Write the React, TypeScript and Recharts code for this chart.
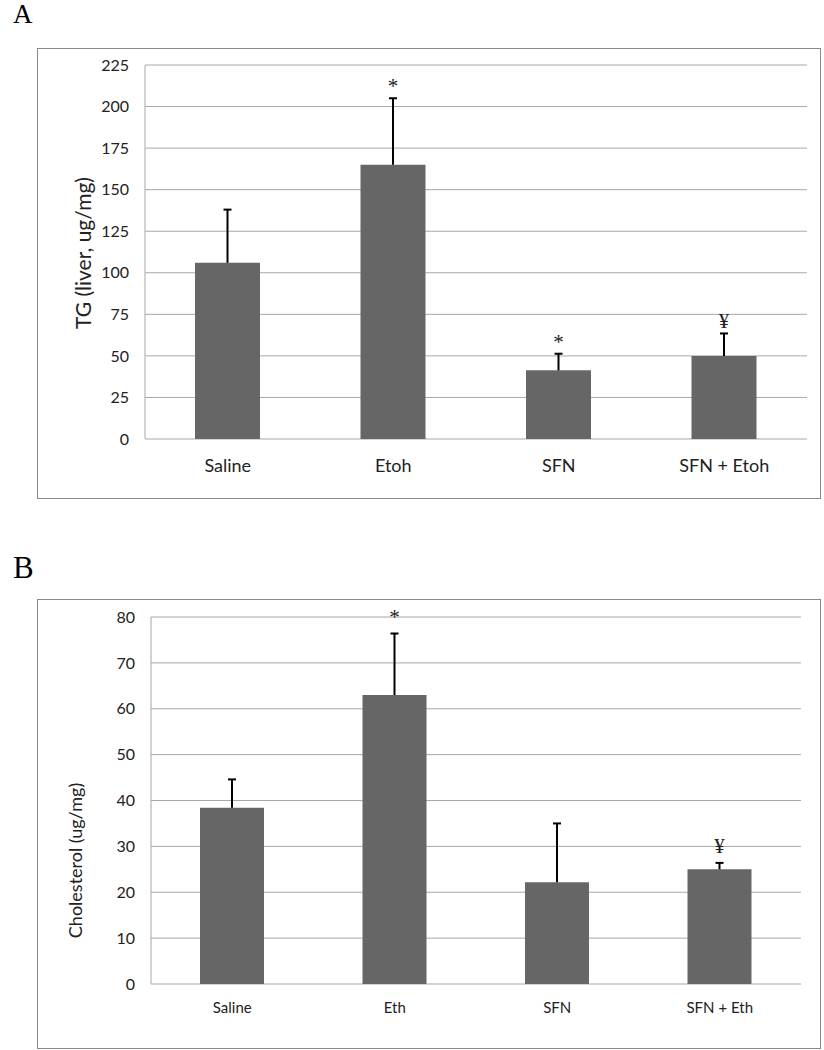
import React from "react";
import { ComposedChart, Bar, XAxis, YAxis, CartesianGrid, LabelList } from "recharts";

// Panel A: liver triglycerides
const tgGroups = ["Saline", "Etoh", "SFN", "SFN + Etoh"];
const tgMeans = [106, 165, 41.3, 50];
const tgErrors = [32, 40, 10, 13.5];
const tgMarks = ["", "*", "*", "¥"];
const tgTicks = [0, 25, 50, 75, 100, 125, 150, 175, 200, 225];

// Panel B: liver cholesterol
const cholGroups = ["Saline", "Eth", "SFN", "SFN + Eth"];
const cholMeans = [38.4, 63, 22.2, 25];
const cholErrors = [6.2, 13.4, 12.8, 1.4];
const cholMarks = ["", "*", "", "¥"];
const cholTicks = [0, 10, 20, 30, 40, 50, 60, 70, 80];

// category boundaries for the little tick marks under the x axis
const edgeTicks = [0, 1, 2, 3, 4];

const SANS = "Lato, 'Open Sans', sans-serif";
const SERIF = "'Liberation Serif', 'DejaVu Serif', serif";
const GRID = "#a8a8a8";

function toRows(groups: string[], means: number[], errs: number[], marks: string[]) {
  return groups.map((g, i) => ({ group: g, mean: means[i], err: errs[i], mark: marks[i] }));
}

// upward-only whisker drawn inside the stacked "err" bar
const Whisker = (p: any) => {
  if (!p.height && p.height !== 0) return null;
  const cx = p.x + p.width / 2;
  return (
    <g>
      <line x1={cx} x2={cx} y1={p.y + p.height} y2={p.y} stroke="#000" strokeWidth={2} />
      <line x1={cx - 4} x2={cx + 4} y1={p.y} y2={p.y} stroke="#000" strokeWidth={2} />
    </g>
  );
};

interface PanelProps {
  rows: ReturnType<typeof toRows>;
  ticks: number[];
  yMax: number;
  width: number;
  height: number;
  margin: { top: number; right: number; left: number; bottom: number };
  barSize: number;
  tickFont: number;
  catFont: number;
  catMargin: number;
  yLabel: string;
  yLabelFont: number;
  yLabelX: number;
  yLabelShift: number;
  markGap: number;
}

function Panel(p: PanelProps) {
  return (
    <ComposedChart width={p.width} height={p.height} data={p.rows} margin={p.margin}>
      <CartesianGrid vertical={false} stroke={GRID} strokeWidth={1} />
      <XAxis
        xAxisId="edge"
        type="number"
        domain={[0, 4]}
        ticks={edgeTicks}
        tick={false}
        tickSize={6}
        height={0}
        axisLine={{ stroke: GRID }}
        tickLine={{ stroke: GRID }}
        allowDataOverflow
      />
      <XAxis
        dataKey="group"
        height={40}
        axisLine={false}
        tickLine={false}
        tickSize={0}
        tickMargin={p.catMargin}
        tick={{ fill: "#222", fontSize: p.catFont, fontFamily: SANS }}
        interval={0}
      />
      <YAxis
        domain={[0, p.yMax]}
        ticks={p.ticks}
        width={100}
        axisLine={{ stroke: GRID }}
        tickLine={false}
        tickSize={6}
        tickMargin={10}
        tick={{ fill: "#222", fontSize: p.tickFont, fontFamily: SANS }}
        label={{
          content: ({ viewBox }: any) => {
            const x = viewBox.x + p.yLabelX;
            const y = viewBox.y + viewBox.height / 2 + p.yLabelShift;
            return (
              <text
                x={x}
                y={y}
                transform={`rotate(-90, ${x}, ${y})`}
                textAnchor="middle"
                dominantBaseline="central"
                fontSize={p.yLabelFont}
                fontFamily={SANS}
                fill="#222"
              >
                {p.yLabel}
              </text>
            );
          },
        }}
      />
      <Bar dataKey="mean" stackId="s" fill="#666666" barSize={p.barSize} isAnimationActive={false} />
      <Bar dataKey="err" stackId="s" fill="none" barSize={p.barSize} shape={Whisker} isAnimationActive={false}>
        <LabelList
          dataKey="mark"
          content={(l: any) =>
            l.value ? (
              <text
                x={l.x + l.width / 2}
                y={l.y - p.markGap}
                textAnchor="middle"
                fontSize={21}
                fontFamily={SERIF}
                fill="#222"
              >
                {l.value}
              </text>
            ) : null
          }
        />
      </Bar>
    </ComposedChart>
  );
}

const frame: React.CSSProperties = {
  position: "absolute",
  left: 37,
  width: 784,
  border: "1.5px solid #8a8a8a",
  boxSizing: "border-box",
};

export default function App() {
  return (
    <div style={{ position: "absolute", left: 0, top: 0, width: 824, height: 1050, background: "#fff" }}>
      <div style={{ position: "absolute", left: 13, top: -3, fontFamily: SERIF, fontSize: 27, lineHeight: "34px" }}>A</div>
      <div style={{ ...frame, top: 48, height: 451 }} />
      <div style={{ position: "absolute", left: 0, top: 0 }}>
        <Panel
          rows={toRows(tgGroups, tgMeans, tgErrors, tgMarks)}
          ticks={tgTicks}
          yMax={225}
          width={824}
          height={500}
          margin={{ top: 65, right: 17, left: 45, bottom: 21 }}
          barSize={65}
          tickFont={16}
          catFont={18}
          catMargin={20}
          yLabel="TG (liver, ug/mg)"
          yLabelFont={21}
          yLabelX={37}
          yLabelShift={1}
          markGap={5}
        />
      </div>

      <div style={{ position: "absolute", left: 13, top: 549, fontFamily: SERIF, fontSize: 31, lineHeight: "38px" }}>B</div>
      <div style={{ ...frame, top: 599, height: 450 }} />
      <div style={{ position: "absolute", left: 0, top: 540 }}>
        <Panel
          rows={toRows(cholGroups, cholMeans, cholErrors, cholMarks)}
          ticks={cholTicks}
          yMax={80}
          width={824}
          height={510}
          margin={{ top: 77, right: 23, left: 51, bottom: 26 }}
          barSize={64}
          tickFont={16}
          catFont={15}
          catMargin={18}
          yLabel="Cholesterol (ug/mg)"
          yLabelFont={18}
          yLabelX={24}
          yLabelShift={60}
          markGap={10}
        />
      </div>
    </div>
  );
}
